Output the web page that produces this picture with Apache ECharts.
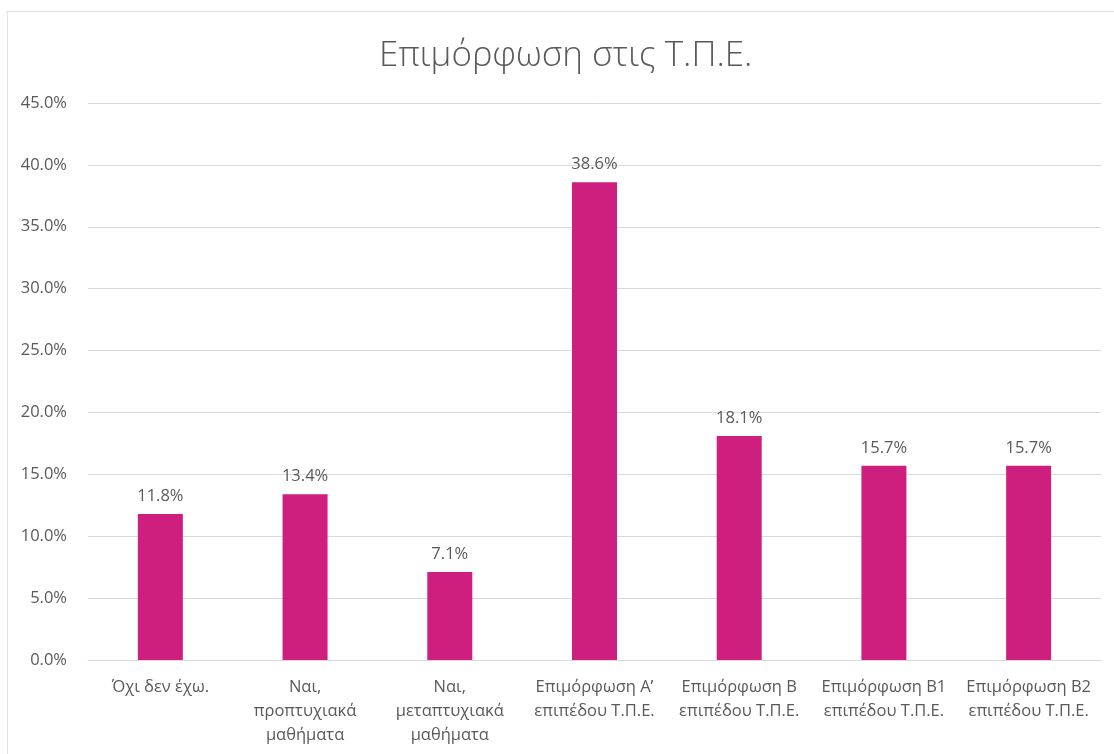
<!DOCTYPE html>
<html>
<head>
<meta charset="utf-8">
<script src="https://cdn.jsdelivr.net/npm/echarts@6/dist/echarts.min.js"></script>
<style>
  html, body { margin: 0; padding: 0; background: #ffffff; }
  #chart { width: 1114px; height: 754px; }
</style>
</head>
<body>
<div id="chart"></div>
<script>
// Categories of ICT training (Επιμόρφωση στις Τ.Π.Ε.)
const categories = [
  'Όχι δεν έχω.',
  'Ναι,\nπροπτυχιακά\nμαθήματα',
  'Ναι,\nμεταπτυχιακά\nμαθήματα',
  'Επιμόρφωση Αʹ\nεπιπέδου Τ.Π.Ε.',
  'Επιμόρφωση Β\nεπιπέδου Τ.Π.Ε.',
  'Επιμόρφωση Β1\nεπιπέδου Τ.Π.Ε.',
  'Επιμόρφωση Β2\nεπιπέδου Τ.Π.Ε.'
];
// Share of respondents, percent
const shares = [11.8, 13.4, 7.1, 38.6, 18.1, 15.7, 15.7];

const textColor = '#595959';
const fontFamily = '"Open Sans", "Noto Sans", sans-serif';

const chart = echarts.init(document.getElementById('chart'), null, { renderer: 'canvas' });
chart.setOption({
  animation: false,
  backgroundColor: '#ffffff',
  title: {
    text: 'Επιμόρφωση στις Τ.Π.Ε.',
    left: 374,
    top: 34,
    padding: 5,
    textStyle: { color: textColor, fontSize: 35, fontWeight: 300, fontFamily: fontFamily }
  },
  graphic: [
    { type: 'line', shape: { x1: 6, y1: 11.5, x2: 1114, y2: 11.5 }, style: { stroke: '#e3e3e3', lineWidth: 1 } },
    { type: 'line', shape: { x1: 7.5, y1: 11, x2: 7.5, y2: 754 }, style: { stroke: '#e3e3e3', lineWidth: 1 } }
  ],
  grid: { left: 88, right: 13, top: 103, bottom: 94, containLabel: false },
  xAxis: {
    type: 'category',
    data: categories,
    axisTick: { show: false },
    axisLine: { lineStyle: { color: '#d9d9d9' } },
    axisLabel: {
      color: textColor, fontSize: 16.5, fontFamily: fontFamily,
      lineHeight: 24, margin: 15, interval: 0
    }
  },
  yAxis: {
    type: 'value',
    min: 0, max: 45, interval: 5,
    axisLine: { show: false },
    axisTick: { show: false },
    splitLine: { lineStyle: { color: '#d9d9d9', width: 1 } },
    axisLabel: {
      color: textColor, fontSize: 16.5, fontFamily: fontFamily, margin: 21,
      formatter: v => v.toFixed(1) + '%'
    }
  },
  series: [{
    type: 'bar',
    data: shares,
    barWidth: 45,
    itemStyle: { color: '#CE1F7E' },
    label: {
      show: true, position: 'top', distance: 9,
      color: textColor, fontSize: 16.5, fontFamily: fontFamily,
      formatter: p => p.value.toFixed(1) + '%'
    }
  }]
});
</script>
</body>
</html>
